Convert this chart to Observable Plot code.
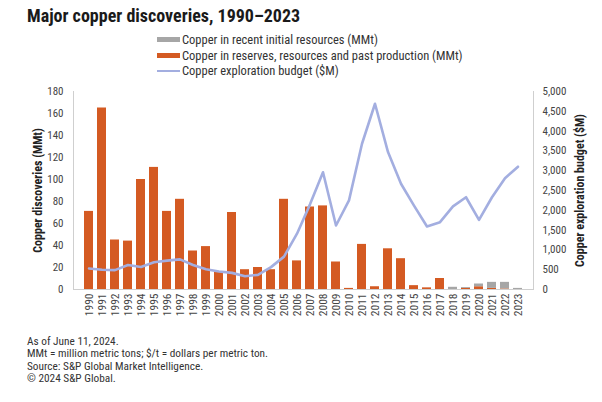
<!DOCTYPE html>
<html>
<head>
<meta charset="utf-8">
<script src="https://cdn.jsdelivr.net/npm/d3@7"></script>
<script src="https://cdn.jsdelivr.net/npm/@observablehq/plot@0.6"></script>
<style>
  html, body { margin: 0; padding: 0; background: #fff; }
  body { width: 602px; height: 402px; position: relative; overflow: hidden;
         font-family: "Liberation Sans Narrow", "Roboto Condensed", Roboto, sans-serif; color: #222; }
  #title { position: absolute; left: 27px; top: 5px; font-size: 18px; font-weight: bold; color: #1a1a1a; }
  #legend { position: absolute; left: 157px; top: 32px; font-size: 12.5px; color: #333; }
  #legend .row { display: flex; align-items: center; height: 15.5px; }
  #legend .sw { width: 23px; margin-right: 2px; }
  #chart { position: absolute; left: 0; top: 80px; }
  #notes { position: absolute; left: 27px; top: 336px; font-size: 11.3px; color: #333; line-height: 12.3px; }
  #chart g[aria-label="y-axis label"] text { font-weight: bold; fill: #222; }
</style>
</head>
<body>
<div id="title">Major copper discoveries, 1990–2023</div>
<div id="legend"></div>
<div id="chart"></div>
<div id="notes">
  <div>As of June 11, 2024.</div>
  <div>MMt = million metric tons; $/t = dollars per metric ton.</div>
  <div>Source: S&amp;P Global Market Intelligence.</div>
  <div>© 2024 S&amp;P Global.</div>
</div>
<script>
const years = ["1990","1991","1992","1993","1994","1995","1996","1997","1998","1999",
  "2000","2001","2002","2003","2004","2005","2006","2007","2008","2009",
  "2010","2011","2012","2013","2014","2015","2016","2017","2018","2019",
  "2020","2021","2022","2023"];
const reserves = [71,165,45,44,100,111,71,82,35,39,
  16,70,18,20,18,82,26,75,76,25,
  1,41,2.5,37,28,3.5,1.5,10,0,1,
  2.5,1,0.5,0];
const recent = [0,0,0,0,0,0,0,0,0,0,
  0,0,0,0,0,0,0,0,0,0,
  0,0,0,0,0,0,0,0,2,0.8,
  2.5,5.5,6,1];
const budget = [530,500,490,620,570,690,730,760,620,510,
  455,420,335,370,565,830,1410,2150,2960,1616,
  2250,3680,4690,3470,2670,2120,1590,1700,2100,2330,
  1760,2330,2810,3100];
const leftTicks = [0,20,40,60,80,100,120,140,160,180];
const rightTicks = [0,500,1000,1500,2000,2500,3000,3500,4000,4500,5000];

const seriesNames = ["Copper in recent initial resources (MMt)",
  "Copper in reserves, resources and past production (MMt)",
  "Copper exploration budget ($M)"];
const colors = { recent: "#a6a6a6", reserves: "#d45a22", budget: "#a3aee0" };

const K = 5000 / 180; // right-axis units per left-axis unit

const bars = [];
years.forEach((y, i) => {
  bars.push({ year: y, series: "reserves", value: reserves[i] });
  bars.push({ year: y, series: "recent", value: recent[i] });
});
const lineData = years.map((y, i) => ({ year: y, v: budget[i] / K }));

const chart = Plot.plot({
  width: 602,
  height: 245,
  marginTop: 11,
  marginBottom: 36,
  marginLeft: 73,
  marginRight: 69,
  style: { fontFamily: '"Liberation Sans Narrow", "Roboto Condensed", Roboto, sans-serif', background: "transparent" },
  x: { type: "band", domain: years, paddingInner: 0.32, paddingOuter: 0.16 },
  y: { domain: [0, 180] },
  color: { domain: ["reserves", "recent"], range: [colors.reserves, colors.recent] },
  marks: [
    Plot.frame({ anchor: "left", stroke: "#cfcfcf" }),
    Plot.frame({ anchor: "right", stroke: "#cfcfcf" }),
    Plot.barY(bars, Plot.stackY({ x: "year", y: "value", fill: "series", order: ["reserves", "recent"] })),
    Plot.ruleY([0], { stroke: "#cfcfcf" }),
    Plot.line(lineData, { x: "year", y: "v", stroke: colors.budget, strokeWidth: 2.6 }),
    Plot.axisX({ tickRotate: -90, tickSize: 0, tickPadding: 4, fontSize: 11.5, color: "#444", label: null }),
    Plot.axisY(leftTicks, { anchor: "left", tickSize: 0, tickPadding: 10, fontSize: 11, color: "#444",
      label: "Copper discoveries (MMt)", labelAnchor: "center", labelArrow: "none", labelOffset: 40 }),
    Plot.axisY(rightTicks.map(v => v / K), { anchor: "right", tickSize: 0, tickPadding: 9, fontSize: 11, color: "#444",
      tickFormat: d => d3.format(",")(Math.round(d * K)),
      label: "Copper exploration budget ($M)", labelAnchor: "center", labelArrow: "none", labelOffset: 50 })
  ]
});
document.getElementById("chart").appendChild(chart);
chart.querySelectorAll('g[aria-label="y-axis label"] text').forEach(t => t.setAttribute("font-size", "12"));

const legend = document.getElementById("legend");
[["recent", "bar"], ["reserves", "bar"], ["budget", "line"]].forEach(([k, kind], i) => {
  const row = document.createElement("div");
  row.className = "row";
  const sw = document.createElement("span");
  sw.className = "sw";
  sw.style.height = kind === "bar" ? "5px" : "2px";
  sw.style.background = colors[k];
  row.appendChild(sw);
  const t = document.createElement("span");
  t.textContent = seriesNames[i];
  row.appendChild(t);
  legend.appendChild(row);
});
</script>
</body>
</html>
